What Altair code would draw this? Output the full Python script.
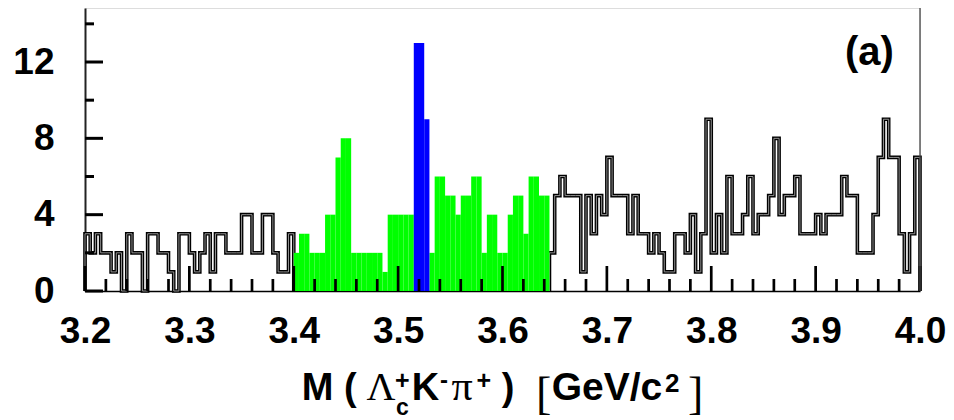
import altair as alt
import pandas as pd

# ---------------- data (counts per 0.005 GeV/c^2 bin) ----------------
X_MIN, X_MAX, BIN = 3.2, 4.0, 0.005
Y_MAX = 14.83

counts_side_lo = [3, 2, 3, 2, 2, 1, 2, 0, 3, 2, 2, 0, 3, 3, 2, 2, 1, 0, 3, 3,
                  2, 1, 2, 3, 1, 3, 3, 2, 2, 2, 4, 4, 2, 2, 4, 4, 2, 1, 1, 3]      # 3.200-3.400
counts_green_lo = [2, 3, 3, 2, 2, 2, 4, 4, 7, 8, 8, 2, 2, 2, 2, 2, 2, 1, 4, 4,
                   4, 4, 4]                                                          # 3.400-3.515
counts_blue = [13, 13, 9]                                                            # 3.515-3.530
counts_green_hi = [2, 6, 6, 5, 5, 4, 5, 5, 6, 6, 2, 4, 4, 2, 2, 4, 5, 5, 3, 6,
                   6, 5, 5]                                                          # 3.530-3.645
counts_side_hi = [2, 5, 6, 5, 5, 5, 1, 5, 3, 5, 4, 7, 5, 5, 5, 3, 5, 3, 3, 2,
                  3, 2, 1, 1, 3, 3, 2, 4, 1, 3, 9, 2, 4, 2, 6, 3, 3, 4,
                  6, 3, 4, 4, 5, 8, 4, 5, 5, 6, 3, 3, 3, 4, 3, 4, 4, 4, 6, 5,
                  5, 2, 2, 2, 4, 7, 9, 7, 7, 3, 1, 3, 7]                             # 3.645-4.000

x_major_ticks = [3.2, 3.3, 3.4, 3.5, 3.6, 3.7, 3.8, 3.9, 4.0]
x_minor_ticks = [3.22, 3.24, 3.26, 3.28, 3.32, 3.34, 3.36, 3.38, 3.42, 3.44, 3.46, 3.48,
                 3.52, 3.54, 3.56, 3.58, 3.62, 3.64, 3.66, 3.68, 3.72, 3.74, 3.76, 3.78,
                 3.82, 3.84, 3.86, 3.88, 3.92, 3.94, 3.96, 3.98]
y_major_ticks = [0, 4, 8, 12]
y_minor_ticks = [2, 6, 10, 14]

# ---------------- tables ----------------
groups = [("side_lo", counts_side_lo), ("green", counts_green_lo), ("blue", counts_blue),
          ("green", counts_green_hi), ("side_hi", counts_side_hi)]
rows = []
i = 0
for name, vals in groups:
    for v in vals:
        rows.append({"x": round(X_MIN + i * BIN, 4), "x2": round(X_MIN + (i + 1) * BIN, 4),
                     "n": v, "base": 0, "grp": name, "seg": name if name.startswith("side") else "fill"})
        i += 1
hist = pd.DataFrame(rows)

# step outline for the side-band (black) parts
pts = []
for seg in ["side_lo", "side_hi"]:
    d = hist[hist["seg"] == seg].reset_index(drop=True)
    k = 0
    pts.append({"seg": seg, "o": k, "x": d["x"].iloc[0], "n": 0}); k += 1
    for _, r in d.iterrows():
        pts.append({"seg": seg, "o": k, "x": r["x"], "n": r["n"]}); k += 1
        pts.append({"seg": seg, "o": k, "x": r["x2"], "n": r["n"]}); k += 1
    pts.append({"seg": seg, "o": k, "x": d["x2"].iloc[-1], "n": 0})
outline = pd.DataFrame(pts)

W, H = 835, 283
xs = alt.Scale(domain=[X_MIN, X_MAX], nice=False, zero=False)
ys = alt.Scale(domain=[0, Y_MAX], nice=False)

FONT = "Liberation Sans"
SERIF = "Liberation Serif"

x_axis = alt.Axis(values=x_major_ticks, format=".1f", title=None)
y_axis = alt.Axis(values=y_major_ticks, format="d", title=None)

X = lambda f: alt.X(f, scale=xs, axis=x_axis)
Y = lambda f: alt.Y(f, scale=ys, axis=y_axis)

line_black = alt.Chart(outline).mark_line(color="black", strokeWidth=3.6, strokeJoin="miter").encode(
    x=X("x:Q"), y=Y("n:Q"), detail="seg:N", order="o:Q")
line_inner = alt.Chart(outline).mark_line(color="#a0a0a0", strokeWidth=0.9, strokeJoin="miter").encode(
    x=X("x:Q"), y=Y("n:Q"), detail="seg:N", order="o:Q")

green = alt.Chart(hist[hist["grp"] == "green"]).mark_rect(color="#00ff00").encode(
    x=X("x:Q"), x2="x2:Q", y=Y("n:Q"), y2="base:Q")
blue = alt.Chart(hist[hist["grp"] == "blue"]).mark_rect(color="#0000ff").encode(
    x=X("x:Q"), x2="x2:Q", y=Y("n:Q"), y2="base:Q")

xt_major = alt.Chart(pd.DataFrame({"x": x_major_ticks})).mark_rule(color="black", strokeWidth=2.7).encode(
    x=X("x:Q"), y=alt.value(H), y2=alt.value(H - 25))
xt_minor = alt.Chart(pd.DataFrame({"x": x_minor_ticks})).mark_rule(color="black", strokeWidth=2.7).encode(
    x=X("x:Q"), y=alt.value(H), y2=alt.value(H - 12))
yt_major = alt.Chart(pd.DataFrame({"n": y_major_ticks})).mark_rule(color="black", strokeWidth=3).encode(
    y=Y("n:Q"), x=alt.value(0), x2=alt.value(18))
yt_minor = alt.Chart(pd.DataFrame({"n": y_minor_ticks})).mark_rule(color="black", strokeWidth=3).encode(
    y=Y("n:Q"), x=alt.value(0), x2=alt.value(9))
right_frame = alt.Chart(pd.DataFrame({"x": [X_MAX]})).mark_rule(color="#444444", strokeWidth=1.3).encode(
    x=X("x:Q"), y=alt.value(0), y2=alt.value(H))

one = pd.DataFrame({"a": [0]})


def txt(s, x, y, size, font=FONT, bold=True):
    return alt.Chart(one).mark_text(text=s, align="left", baseline="alphabetic", font=font,
                                    fontSize=size, fontWeight="bold" if bold else "normal",
                                    color="black").encode(x=alt.value(x), y=alt.value(y))


title_parts = [
    txt("M (", 216.7, 392, 38),
    txt("Λ", 281.5, 392, 40, SERIF, False),
    txt("c", 311, 407, 23),
    txt("+", 310, 380.5, 25),
    txt("K", 326.7, 392, 38),
    txt("-", 355, 380, 24),
    txt("π", 366.5, 392, 42, SERIF, False),
    txt("+", 391.5, 380.5, 25),
    txt(")", 416.7, 392, 38),
    txt("[", 451, 401, 46, SERIF, False),
    txt("GeV/c", 466.7, 392, 39),
    txt("2", 580, 384, 26),
    txt("]", 603, 401, 46, SERIF, False),
    txt("(a)", 760, 57, 40),
]

chart = alt.layer(line_black, line_inner, green, blue, xt_major, xt_minor, yt_major, yt_minor,
                  right_frame, *title_parts).properties(
    width=W, height=H,
    autosize=alt.AutoSizeParams(type="none"),
    padding={"left": 85, "top": 8, "right": 34, "bottom": 129},
).configure_view(stroke=None).configure(background="white").configure_axis(
    ticks=False, grid=False, labelFont=FONT, labelFontSize=37, labelFontWeight="bold",
    labelColor="black", labelFlush=False, labelOverlap=False,
).configure_axisX(labelPadding=22, domainColor="black", domainWidth=1.5).configure_axisY(
    labelPadding=31, domainColor="#222222", domainWidth=2)

chart.save("out.html", embed_options={"renderer": "svg", "actions": False})
